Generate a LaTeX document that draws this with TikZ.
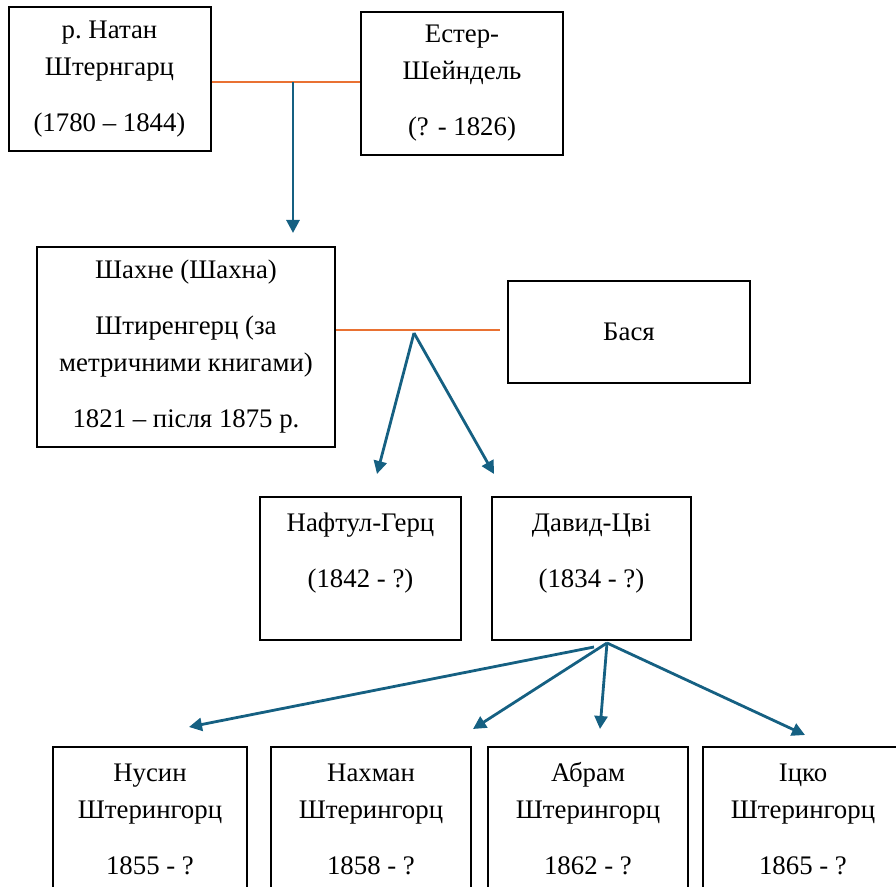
\documentclass[tikz,border=0pt]{standalone}
\usepackage{fontspec}
\setmainfont{Liberation Serif}
\usetikzlibrary{arrows.meta}
\definecolor{spouseline}{HTML}{E97132}
\definecolor{childline}{HTML}{156082}
\tikzset{
    person/.style={draw, line width=1pt, inner sep=0pt, align=center, minimum height=71.5pt, font=\fontsize{13.4}{18.5}\selectfont},
    spouse/.style={draw=spouseline, line width=1pt},
    child/.style={draw=childline, line width=1.4pt, -{Triangle[length=6.5pt,width=6.5pt]}}
}
\begin{document}
\begin{tikzpicture}[x=0.5pt, y=-0.5pt]
    \useasboundingbox (0,0) rectangle (896,887);
    \clip (0,0) rectangle (896,887);

    % First generation
    \node[person, minimum width=101pt, minimum height=72pt] (natan) at (109.5,79) {р.\ Натан\\Штернгарц\\[9.5pt](1780 – 1844)};
    \node[person, minimum width=101pt] (ester) at (462,83.5) {Естер-\\Шейндель\\[9.5pt](? - 1826)};

    % Marriage line and the son
    \coordinate (m1) at (293,82);
    \coordinate (s1) at (293,233);
    \draw[spouse] (natan.east |- m1) -- (ester.west |- m1);
    \draw[child] (m1) -- (s1);

    % Second generation
    \node[person, minimum width=149pt, minimum height=100pt] (shakhne) at (186,347) {Шахне (Шахна)\\[9.5pt]Штиренгерц (за\\метричними книгами)\\[9.5pt]1821 – після 1875 р.};
    \node[person, minimum width=121pt, minimum height=51pt] (basya) at (629,332) {Бася};

    \coordinate (m2) at (500,330);
    \coordinate (j2) at (414,333);
    \coordinate (s2) at (377,474);
    \coordinate (s3) at (494,474);
    \draw[spouse] (shakhne.east |- m2) -- (m2);
    \draw[child] (j2) -- (s2);
    \draw[child] (j2) -- (s3);

    % Third generation (text sits high in the box)
    \node[person, minimum width=100.5pt] (naftul) at (360.5,568.5) {Нафтул-Герц\\[9.5pt](1842 - ?)\\[-0.5pt]\mbox{}};
    \node[person, minimum width=99.5pt] (david) at (591.5,568.5) {Давид-Цві\\[9.5pt](1834 - ?)\\[-0.5pt]\mbox{}};

    % Fourth generation, cut off at the bottom
    \foreach \who/\x/\w/\first/\born in {nusin/150/97/Нусин/1855, nakhman/371/100/Нахман/1858, abram/588/100/Абрам/1862, itsko/803/100/Іцко/1865}
        \node[person, minimum width=\w pt] (\who) at (\x,819) {\first\\Штерингорц\\[9.5pt]\born\ - ?};

    % Arrows from David-Tsvi to his sons
    \coordinate (d1) at (594,647);
    \coordinate (d2) at (607,643);
    \coordinate (e1) at (189,727);
    \coordinate (e2) at (473,729);
    \coordinate (e3) at (600,729);
    \coordinate (e4) at (805,735);
    \draw[child] (d1) -- (e1);
    \foreach \i in {2,3,4}
        \draw[child] (d2) -- (e\i);
\end{tikzpicture}
\end{document}
